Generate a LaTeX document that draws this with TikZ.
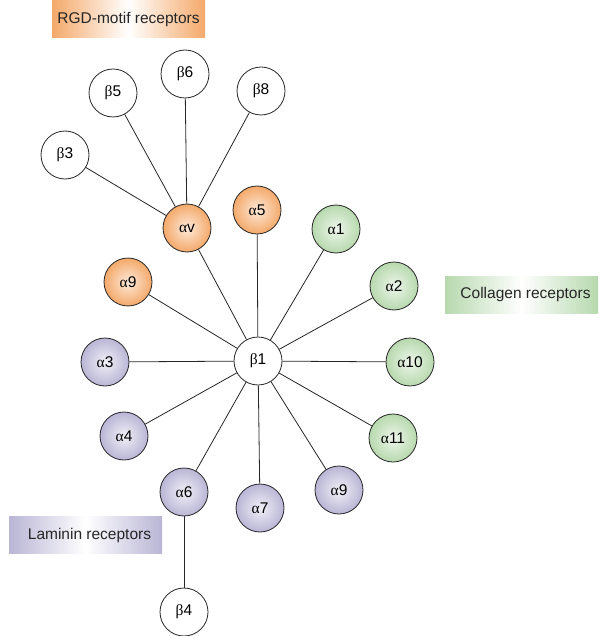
\documentclass[tikz,border=0pt]{standalone}
\usepackage{fontspec}
\setmainfont{Liberation Sans}
\newfontfamily\grk{Liberation Serif}
\usepackage{tikz}
\usetikzlibrary{calc}

\definecolor{rgdorange}{HTML}{F4A96A}
\definecolor{colgreen}{HTML}{B7D9AE}
\definecolor{lampurple}{HTML}{B9B5D5}

\newcommand{\al}{{\grk α}}
\newcommand{\be}{{\grk β}}

\begin{document}
\begin{tikzpicture}[x=1pt,y=-1pt,every node/.style={font=\fontsize{15.5}{18}\selectfont}]

\tikzset{
  sub/.style={circle,draw=black!85,line width=0.8pt,minimum size=48pt,inner sep=0pt},
  beta/.style={sub,fill=white},
  rgd/.style={sub,inner color=rgdorange!25,outer color=rgdorange},
  col/.style={sub,inner color=colgreen!25,outer color=colgreen},
  lam/.style={sub,inner color=lampurple!20,outer color=lampurple},
  family/.style={rectangle,minimum width=153pt,minimum height=37pt,inner sep=0pt,text=black!85},
  link/.style={line width=0.8pt,black!85}
}

\useasboundingbox (0,0) rectangle (600,636);

\node [family,left color=rgdorange,right color=rgdorange,middle color=white] (rgdbox) at (128.5,19) {RGD-motif receptors};
\node [family,left color=colgreen,right color=colgreen,middle color=white] (colbox) at (521.5,294.5) {\hspace{8pt}Collagen receptors};
\node [family,left color=lampurple,right color=lampurple,middle color=white] (lambox) at (85.5,535) {\hspace{8pt}Laminin receptors};

\node [beta] (b1) at (258,361) {\be1};

\node [rgd] (av) at (187,228) {\al v};
\node [rgd] (a5) at (257,210) {\al5};
\node [rgd] (a9r) at (128,282) {\al9};

\node [beta] (b3) at (65,155) {\be3};
\node [beta] (b5) at (113,93) {\be5};
\node [beta] (b6) at (185,74) {\be6};
\node [beta] (b8) at (261,91) {\be8};

\node [col] (a1) at (336,229) {\al1};
\node [col] (a2) at (394,286) {\al2};
\node [col] (a10) at (410,362) {\al10};
\node [col] (a11) at (393,438) {\al11};

\node [lam] (a3) at (105,362) {\al3};
\node [lam] (a4) at (124,436) {\al4};
\node [lam] (a6) at (184,492) {\al6};
\node [lam] (a7) at (260,508) {\al7};
\node [lam] (a9l) at (339,490) {\al9};

\node [beta] (b4) at (184,612) {\be4};

\foreach \n in {av,a5,a9r,a1,a2,a10,a11,a3,a4,a6,a7,a9l}
  \draw [link] (b1) -- (\n);
\foreach \n in {b3,b5,b6,b8}
  \draw [link] (av) -- (\n);
\draw [link] (a6) -- (b4);

\end{tikzpicture}
\end{document}
